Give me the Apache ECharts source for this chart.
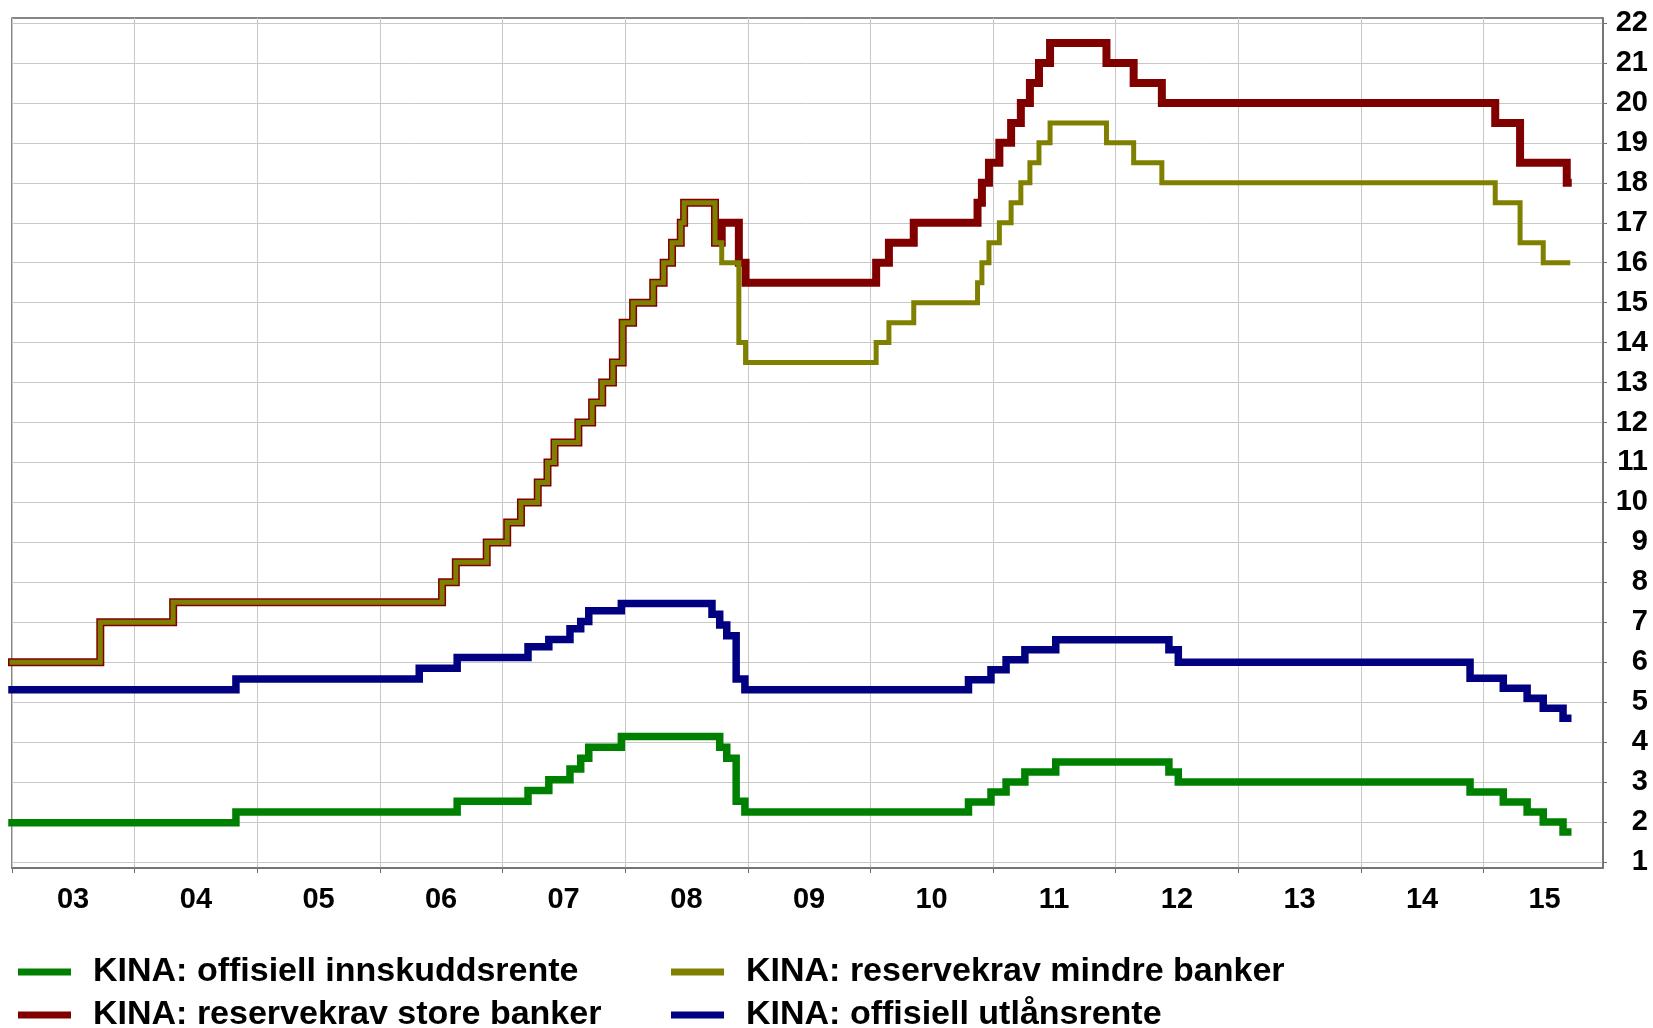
<!DOCTYPE html>
<html>
<head>
<meta charset="utf-8">
<title>Kina: renter og reservekrav</title>
<script src="https://cdn.jsdelivr.net/npm/echarts@6.0.0/dist/echarts.min.js"></script>
<style>
  html, body { margin: 0; padding: 0; background: #fff; }
  #chart { width: 1653px; height: 1028px; }
</style>
</head>
<body>
<div id="chart"></div>
<script>
// år på x-aksen og verdier på y-aksen
const years = [2003, 2004, 2005, 2006, 2007, 2008, 2009, 2010, 2011, 2012, 2013, 2014, 2015]
const yTicks = [1, 2, 3, 4, 5, 6, 7, 8, 9, 10, 11, 12, 13, 14, 15, 16, 17, 18, 19, 20, 21, 22]
const lastDate = '2015-09-09'

// endringsdatoer og nytt nivå (trappetrinn)
const innskuddsrente = [
  ['2003-01-01', 1.98], ['2004-10-29', 2.25], ['2006-08-19', 2.52], ['2007-03-18', 2.79],
  ['2007-05-19', 3.06], ['2007-07-21', 3.33], ['2007-08-22', 3.60], ['2007-09-15', 3.87],
  ['2007-12-21', 4.14], ['2008-10-09', 3.87], ['2008-10-30', 3.60], ['2008-11-27', 2.52],
  ['2008-12-23', 2.25], ['2010-10-20', 2.50], ['2010-12-26', 2.75], ['2011-02-09', 3.00],
  ['2011-04-06', 3.25], ['2011-07-07', 3.50], ['2012-06-08', 3.25], ['2012-07-06', 3.00],
  ['2014-11-22', 2.75], ['2015-03-01', 2.50], ['2015-05-11', 2.25], ['2015-06-28', 2.00],
  ['2015-08-26', 1.75]
]
const utlansrente = [
  ['2003-01-01', 5.31], ['2004-10-29', 5.58], ['2006-04-28', 5.85], ['2006-08-19', 6.12],
  ['2007-03-18', 6.39], ['2007-05-19', 6.57], ['2007-07-21', 6.84], ['2007-08-22', 7.02],
  ['2007-09-15', 7.29], ['2007-12-21', 7.47], ['2008-09-16', 7.20], ['2008-10-09', 6.93],
  ['2008-10-30', 6.66], ['2008-11-27', 5.58], ['2008-12-23', 5.31], ['2010-10-20', 5.56],
  ['2010-12-26', 5.81], ['2011-02-09', 6.06], ['2011-04-06', 6.31], ['2011-07-07', 6.56],
  ['2012-06-08', 6.31], ['2012-07-06', 6.00], ['2014-11-22', 5.60], ['2015-03-01', 5.35],
  ['2015-05-11', 5.10], ['2015-06-28', 4.85], ['2015-08-26', 4.60]
]
const reservekravStore = [
  ['2003-01-01', 6.0], ['2003-09-21', 7.0], ['2004-04-25', 7.5], ['2006-07-05', 8.0],
  ['2006-08-15', 8.5], ['2006-11-15', 9.0], ['2007-01-15', 9.5], ['2007-02-25', 10.0],
  ['2007-04-16', 10.5], ['2007-05-15', 11.0], ['2007-06-05', 11.5], ['2007-08-15', 12.0],
  ['2007-09-25', 12.5], ['2007-10-25', 13.0], ['2007-11-26', 13.5], ['2007-12-25', 14.5],
  ['2008-01-25', 15.0], ['2008-03-25', 15.5], ['2008-04-25', 16.0], ['2008-05-20', 16.5],
  ['2008-06-15', 17.0], ['2008-06-25', 17.5], ['2008-09-25', 16.5], ['2008-10-15', 17.0],
  ['2008-12-05', 16.0], ['2008-12-25', 15.5], ['2010-01-18', 16.0], ['2010-02-25', 16.5],
  ['2010-05-10', 17.0], ['2010-11-16', 17.5], ['2010-11-29', 18.0], ['2010-12-20', 18.5],
  ['2011-01-20', 19.0], ['2011-02-24', 19.5], ['2011-03-25', 20.0], ['2011-04-21', 20.5],
  ['2011-05-18', 21.0], ['2011-06-20', 21.5], ['2011-12-05', 21.0], ['2012-02-24', 20.5],
  ['2012-05-18', 20.0], ['2015-02-05', 19.5], ['2015-04-20', 18.5], ['2015-09-06', 18.0]
]
const reservekravMindre = [
  ['2003-01-01', 6.0], ['2003-09-21', 7.0], ['2004-04-25', 7.5], ['2006-07-05', 8.0],
  ['2006-08-15', 8.5], ['2006-11-15', 9.0], ['2007-01-15', 9.5], ['2007-02-25', 10.0],
  ['2007-04-16', 10.5], ['2007-05-15', 11.0], ['2007-06-05', 11.5], ['2007-08-15', 12.0],
  ['2007-09-25', 12.5], ['2007-10-25', 13.0], ['2007-11-26', 13.5], ['2007-12-25', 14.5],
  ['2008-01-25', 15.0], ['2008-03-25', 15.5], ['2008-04-25', 16.0], ['2008-05-20', 16.5],
  ['2008-06-15', 17.0], ['2008-06-25', 17.5], ['2008-09-25', 16.5], ['2008-10-15', 16.0],
  ['2008-12-05', 14.0], ['2008-12-25', 13.5], ['2010-01-18', 14.0], ['2010-02-25', 14.5],
  ['2010-05-10', 15.0], ['2010-11-16', 15.5], ['2010-11-29', 16.0], ['2010-12-20', 16.5],
  ['2011-01-20', 17.0], ['2011-02-24', 17.5], ['2011-03-25', 18.0], ['2011-04-21', 18.5],
  ['2011-05-18', 19.0], ['2011-06-20', 19.5], ['2011-12-05', 19.0], ['2012-02-24', 18.5],
  ['2012-05-18', 18.0], ['2015-02-05', 17.5], ['2015-04-20', 16.5], ['2015-06-28', 16.0]
]

const names = {
  innskudd: 'KINA: offisiell innskuddsrente',
  store: 'KINA: reservekrav store banker',
  mindre: 'KINA: reservekrav mindre banker',
  utlan: 'KINA: offisiell utlånsrente'
}

// dato-tekst -> tidsstempel (lokal tid)
const toTime = (s) => {
  const [y, m, d] = s.split('-').map(Number)
  return new Date(y, m - 1, d).getTime()
}

// siste nivå holdes til siste observasjon
const withEnd = (list) =>
  list.concat([[lastDate, list[list.length - 1][1]]]).map((p) => [toTime(p[0]), p[1]])

const yearStarts = years.map((y) => new Date(y, 0, 1).getTime())
const yearMids = years.map((y) => new Date(y, 6, 2).getTime())
const xMin = new Date(2003, 0, 1).getTime()
const xMax = new Date(2015, 11, 23).getTime()

const font = 'Liberation Sans, Arial, sans-serif'

const myChart = echarts.init(document.getElementById('chart'))

const stepSeries = (name, data, color, width) => ({
  name: name,
  type: 'line',
  step: 'end',
  showSymbol: false,
  symbol: 'none',
  color: color,
  lineStyle: { color: color, width: width, join: 'miter', cap: 'square' },
  data: withEnd(data),
  animation: false
})

const legendBase = {
  orient: 'vertical',
  top: 955,
  height: 90,
  padding: 0,
  itemGap: 9,
  itemWidth: 53,
  itemHeight: 7,
  icon: 'rect',
  textStyle: {
    fontFamily: font,
    fontSize: 34,
    fontWeight: 'bold',
    color: '#000',
    lineHeight: 32,
    padding: [0, 0, 0, 17]
  }
}

const options = {
  backgroundColor: '#fff',
  animation: false,
  grid: {
    left: 12,
    right: 50,
    top: 18,
    bottom: 160,
    show: true,
    borderColor: '#606060',
    borderWidth: 1.5,
    outerBoundsMode: 'none'
  },
  legend: [
    Object.assign({}, legendBase, { left: 18, data: [names.innskudd, names.store] }),
    Object.assign({}, legendBase, { left: 671, data: [names.mindre, names.utlan] })
  ],
  xAxis: [
    {
      type: 'value',
      min: xMin,
      max: xMax,
      axisLine: { show: true, lineStyle: { color: '#707070', width: 1.5 } },
      axisTick: { show: true, customValues: yearStarts, length: 5, lineStyle: { color: '#707070' } },
      axisLabel: { show: false },
      splitLine: { show: true, lineStyle: { color: '#c8c8c8', width: 1 } }
    },
    {
      // årstall midt i hvert år
      type: 'value',
      min: xMin,
      max: xMax,
      position: 'bottom',
      axisLine: { show: false },
      axisTick: { show: false },
      splitLine: { show: false },
      axisLabel: {
        customValues: yearMids,
        margin: 17,
        fontFamily: font,
        fontSize: 29,
        fontWeight: 'bold',
        color: '#000',
        formatter: (value) => String(new Date(value).getFullYear()).slice(2)
      }
    }
  ],
  yAxis: {
    type: 'value',
    position: 'right',
    min: 0.85,
    max: 22.125,
    axisLine: { show: true, lineStyle: { color: '#707070', width: 1.5 } },
    axisTick: { show: true, customValues: yTicks, length: 4, lineStyle: { color: '#707070' } },
    axisLabel: {
      customValues: yTicks,
      align: 'right',
      margin: 45,
      fontFamily: font,
      fontSize: 29,
      fontWeight: 'bold',
      color: '#000'
    },
    splitLine: { show: true, lineStyle: { color: '#c8c8c8', width: 1 } }
  },
  series: [
    stepSeries(names.innskudd, innskuddsrente, '#008000', 7.5),
    stepSeries(names.utlan, utlansrente, '#000080', 7.5),
    stepSeries(names.store, reservekravStore, '#800000', 8),
    stepSeries(names.mindre, reservekravMindre, '#808000', 5)
  ]
}

myChart.setOption(options)
</script>
</body>
</html>
